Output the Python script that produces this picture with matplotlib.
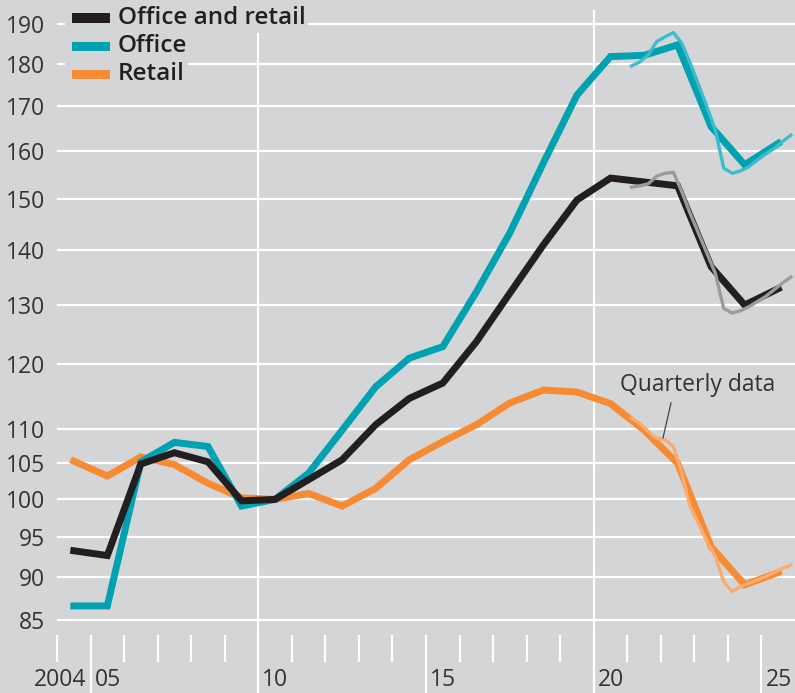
import matplotlib
matplotlib.use("Agg")
import matplotlib.pyplot as plt
import numpy as np

# ---- data ----
years_annual = [2004, 2005, 2006, 2007, 2008, 2009, 2010, 2011, 2012, 2013, 2014,
                2015, 2016, 2017, 2018, 2019, 2020, 2021, 2022, 2023, 2024, 2025]
office_retail = [93.3, 92.7, 104.9, 106.5, 105.2, 99.8, 100.0, 102.7, 105.5, 110.6, 114.6,
                 117.0, 123.7, 132.1, 141.0, 149.8, 154.3, 153.5, 152.7, 136.9, 130.0, 132.9]
office = [86.6, 86.6, 105.2, 108.0, 107.4, 99.1, 100.0, 103.6, 109.8, 116.4, 121.0,
          122.9, 132.3, 143.3, 157.5, 172.6, 181.8, 182.1, 184.7, 165.4, 157.1, 161.7]
retail = [105.3, 103.2, 105.9, 104.8, 102.2, 100.2, 100.0, 100.8, 99.1, 101.5, 105.5,
          108.1, 110.6, 113.9, 115.9, 115.6, 113.8, 109.8, 105.0, 93.8, 89.1, 90.6]

quarters = ["2021Q1", "2021Q2", "2021Q3", "2021Q4", "2022Q1", "2022Q2", "2022Q3", "2022Q4",
            "2023Q1", "2023Q2", "2023Q3", "2023Q4", "2024Q1", "2024Q2", "2024Q3", "2024Q4",
            "2025Q1", "2025Q2", "2025Q3", "2025Q4"]
q_office_retail = [152.4, 152.7, 153.1, 154.7, 155.3, 155.5, 151.5, 147.1, 143.2, 139.4,
                   135.7, 129.4, 128.6, 129.0, 129.7, 130.6, 131.5, 132.7, 133.9, 135.0]
q_office = [179.5, 180.5, 182.2, 185.5, 186.7, 187.8, 185.1, 180.2, 175.0, 169.9,
            164.6, 156.4, 155.3, 155.8, 156.7, 158.1, 159.4, 160.6, 162.1, 163.5]
q_retail = [111.6, 110.8, 109.6, 108.6, 108.4, 107.4, 103.6, 99.0, 96.8, 94.5,
            92.6, 89.5, 88.3, 88.9, 89.3, 89.7, 90.1, 90.6, 91.1, 91.5]

y_ticks = [85, 90, 95, 100, 105, 110, 120, 130, 140, 150, 160, 170, 180, 190]
x_labels = {2004: "2004", 2005: "05", 2010: "10", 2015: "15", 2020: "20", 2025: "25"}
series_names = ["Office and retail", "Office", "Retail"]

# ---- style ----
BG = "#d4d5d7"
C_BLACK = "#231f20"
C_TEAL = "#00a1b1"
C_ORANGE = "#f68b33"
C_LTEAL = "#3dbccb"
C_GREY = "#9b9b9b"
C_LORANGE = "#fbab6e"
TXT = "#333333"
FONT = "Open Sans"
FS = 16.5
FS_LEG = 17.5

plt.rcParams["font.family"] = [FONT, "DejaVu Sans"]

W, H = 795, 693
fig = plt.figure(figsize=(W / 100, H / 100), dpi=100, facecolor=BG)
ax_left, ax_top = 57, 10
ax = fig.add_axes([ax_left / W, 0, (W - ax_left) / W, (H - ax_top) / H])
ax.set_facecolor(BG)
for s in ax.spines.values():
    s.set_visible(False)

ax.set_yscale("log")
ax.set_ylim(77.0, 193.6)
ax.set_xlim(2004, 2026)

# grid
for v in y_ticks:
    ax.axhline(v, color="white", lw=1.6, zorder=1)
for xv in (2010, 2020):
    ax.axvline(xv, color="white", lw=1.6, zorder=1)

# y tick labels
ax.set_yticks(y_ticks)
ax.set_yticklabels([str(v) for v in y_ticks])
ax.yaxis.set_minor_locator(matplotlib.ticker.NullLocator())
ax.tick_params(axis="y", length=0, pad=8.5, labelsize=FS, labelcolor=TXT)
ax.set_xticks([])

# x tick marks
xt = ax.get_xaxis_transform()
ax_h = H - ax_top
for yr in range(2004, 2026):
    if yr in (2005, 2010, 2015, 2020, 2025):
        y0, y1 = 0.0, (H - 635) / ax_h
    else:
        y0, y1 = (H - 662) / ax_h, (H - 635) / ax_h
    ax.plot([yr, yr], [y0, y1], transform=xt, color="white", lw=1.6,
            solid_capstyle="butt", zorder=1, clip_on=False)

# x labels
px_per_year = (W - ax_left) / 22.0
gap = 4 / px_per_year
ylab = (H - 686) / ax_h
for yr, lab in x_labels.items():
    if yr == 2004:
        ax.text(2005 - gap, ylab, lab, transform=xt, ha="right", va="baseline",
                fontsize=FS, color=TXT)
    else:
        ax.text(yr + gap, ylab, lab, transform=xt, ha="left", va="baseline",
                fontsize=FS, color=TXT)

# data positions
xa = np.array(years_annual) + 0.5
xq = np.array([int(q[:4]) + (int(q[-1]) - 0.5) / 4 for q in quarters])

lw_thick = 5.0
lw_thin = 2.4
ax.plot(xa, retail, color=C_ORANGE, lw=lw_thick, zorder=3, solid_joinstyle="miter")
ax.plot(xq, q_retail, color=C_LORANGE, lw=lw_thin, zorder=4)
ax.plot(xa, office, color=C_TEAL, lw=lw_thick, zorder=5, solid_joinstyle="miter")
ax.plot(xq, q_office, color=C_LTEAL, lw=lw_thin, zorder=6)
ax.plot(xa, office_retail, color=C_BLACK, lw=lw_thick, zorder=7, solid_joinstyle="miter")
ax.plot(xq, q_office_retail, color=C_GREY, lw=lw_thin, zorder=8)

# annotation
def px2x(px):
    return 2004 + (px - ax_left) / px_per_year

def py2v(py):
    return 100 * np.exp((499.5 - py) / 741.0)

ax.text(px2x(620), py2v(385), "Quarterly data", ha="left", va="center",
        fontsize=FS, color=TXT, zorder=9)
ax.plot([px2x(671), px2x(663)], [py2v(403), py2v(438)], color="#444444", lw=0.9, zorder=9)

# manual legend (figure pixel coords)
colors = [C_BLACK, C_TEAL, C_ORANGE]
rows_y = [18, 46, 74]
for name, c, ry in zip(series_names, colors, rows_y):
    fy = 1 - ry / H
    rect = matplotlib.patches.Rectangle((72 / W, 1 - (ry + 4.5) / H), 38 / W, 9 / H,
                                        transform=fig.transFigure, facecolor=c,
                                        edgecolor="none", zorder=20)
    fig.patches.append(rect)
    fig.text(118 / W, fy, name, ha="left", va="center", fontsize=FS_LEG,
             fontweight="semibold", color=C_BLACK, zorder=20,
             bbox=dict(facecolor=BG, edgecolor="none", pad=2))
# cover gridline segments behind legend handles
for ry in rows_y:
    cover = matplotlib.patches.Rectangle((65 / W, 1 - (ry + 14) / H), 55 / W, 28 / H,
                                         transform=fig.transFigure, facecolor=BG,
                                         edgecolor="none", zorder=19)
    fig.patches.append(cover)

fig.savefig("out.png", dpi=100, facecolor=BG)
